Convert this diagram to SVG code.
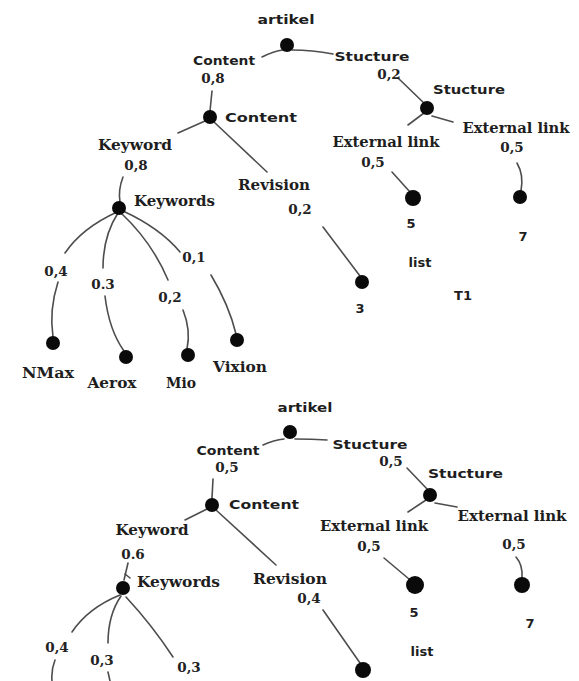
<svg xmlns="http://www.w3.org/2000/svg" width="579" height="681" viewBox="0 0 579 681">
  <style>
    .bg { fill: #ffffff; }
    .dot { fill: #0a0a0a; }
    .edge { fill: none; stroke: #4d4d4d; stroke-width: 1.6; stroke-linecap: round; }
    .sans { font-family: "DejaVu Sans", Verdana, sans-serif; font-weight: bold; font-size: 13px; fill: #1e1e1e; }
    .serif { font-family: "DejaVu Serif", "Liberation Serif", serif; font-weight: bold; font-size: 14px; fill: #1e1e1e; }
    .w { font-family: "DejaVu Serif", "Liberation Serif", serif; font-weight: bold; font-size: 13.5px; fill: #222222; text-anchor: middle; }
    .m { text-anchor: middle; }
  </style>
  <rect class="bg" x="0" y="0" width="579" height="681"/>

  <!-- ===== Tree 1 ===== -->
  <g id="t1-connectors">
    <path class="edge" d="M262,57 Q274,51 283,50"/>
    <path class="edge" d="M292,50 Q312,50 333,54"/>
    <path class="edge" d="M212,91 L210,111"/>
    <path class="edge" d="M398,78 L426,105"/>
    <path class="edge" d="M424,113 L408,125"/>
    <path class="edge" d="M432,116 L453,122"/>
    <path class="edge" d="M392,172 L410,192"/>
    <path class="edge" d="M517,163 Q524,175 521,191"/>
    <path class="edge" d="M205,121 L178,133"/>
    <path class="edge" d="M214,122 L267,172"/>
    <path class="edge" d="M123,177 Q118,190 120,202"/>
    <path class="edge" d="M323,227 L360,276"/>
    <!-- Keywords fan-out -->
    <path class="edge" d="M117,212 Q82,228 65,253"/>
    <path class="edge" d="M58,282 Q49,310 53,337"/>
    <path class="edge" d="M118,213 Q103,236 103,268"/>
    <path class="edge" d="M105,296 Q109,330 124,351"/>
    <path class="edge" d="M121,213 Q152,242 168,280"/>
    <path class="edge" d="M183,310 Q191,330 187,349"/>
    <path class="edge" d="M123,211 Q160,228 180,252"/>
    <path class="edge" d="M211,275 Q229,305 236,334"/>
    <!-- weights -->
    <text class="w" x="213" y="83">0,8</text>
    <text class="w" x="389" y="79">0,2</text>
    <text class="w" x="373" y="167">0,5</text>
    <text class="w" x="512" y="152">0,5</text>
    <text class="w" x="136" y="170">0,8</text>
    <text class="w" x="300" y="214">0,2</text>
    <text class="w" x="56" y="276">0,4</text>
    <text class="w" x="103" y="289">0.3</text>
    <text class="w" x="170" y="302">0,2</text>
    <text class="w" x="194" y="262">0,1</text>
  </g>

  <g id="t1-artikel">
    <circle class="dot" cx="287" cy="45" r="7"/>
    <text class="sans m" x="286" y="24" textLength="57" lengthAdjust="spacingAndGlyphs">artikel</text>
  </g>
  <g id="t1-content-edge-label">
    <text class="sans m" x="224" y="65" textLength="62" lengthAdjust="spacingAndGlyphs">Content</text>
  </g>
  <g id="t1-content">
    <circle class="dot" cx="210" cy="117" r="7"/>
    <text class="sans" x="225" y="122" textLength="72" lengthAdjust="spacingAndGlyphs">Content</text>
  </g>
  <g id="t1-stucture-edge-label">
    <text class="sans m" x="372" y="61" textLength="75" lengthAdjust="spacingAndGlyphs">Stucture</text>
  </g>
  <g id="t1-stucture">
    <circle class="dot" cx="427" cy="108" r="7"/>
    <text class="sans" x="433" y="94" textLength="72" lengthAdjust="spacingAndGlyphs">Stucture</text>
  </g>
  <g id="t1-extlink-left">
    <text class="serif m" x="386" y="147" textLength="107" lengthAdjust="spacingAndGlyphs">External link</text>
    <circle class="dot" cx="413" cy="198" r="8"/>
    <text class="sans m" x="411" y="228">5</text>
  </g>
  <g id="t1-extlink-right">
    <text class="serif m" x="516" y="133" textLength="107" lengthAdjust="spacingAndGlyphs">External link</text>
    <circle class="dot" cx="520" cy="197" r="7"/>
    <text class="sans m" x="523" y="241">7</text>
  </g>
  <g id="t1-keyword-label">
    <text class="serif m" x="135" y="150" textLength="74" lengthAdjust="spacingAndGlyphs">Keyword</text>
  </g>
  <g id="t1-keywords">
    <circle class="dot" cx="119" cy="208" r="7"/>
    <text class="serif" x="134" y="206" textLength="81" lengthAdjust="spacingAndGlyphs">Keywords</text>
  </g>
  <g id="t1-revision">
    <text class="serif m" x="274" y="190" textLength="72" lengthAdjust="spacingAndGlyphs">Revision</text>
    <circle class="dot" cx="362" cy="282" r="7"/>
    <text class="sans m" x="360" y="313">3</text>
  </g>
  <g id="t1-list">
    <text class="sans m" x="420" y="267">list</text>
    <text class="sans m" x="463" y="300">T1</text>
  </g>
  <g id="t1-nmax">
    <circle class="dot" cx="53" cy="343" r="7"/>
    <text class="serif m" x="48" y="378" textLength="52" lengthAdjust="spacingAndGlyphs">NMax</text>
  </g>
  <g id="t1-aerox">
    <circle class="dot" cx="126" cy="357" r="7"/>
    <text class="serif m" x="112" y="388" textLength="49" lengthAdjust="spacingAndGlyphs">Aerox</text>
  </g>
  <g id="t1-mio">
    <circle class="dot" cx="188" cy="355" r="7"/>
    <text class="serif m" x="181" y="388" textLength="30" lengthAdjust="spacingAndGlyphs">Mio</text>
  </g>
  <g id="t1-vixion">
    <circle class="dot" cx="237" cy="340" r="7"/>
    <text class="serif m" x="240" y="372" textLength="54" lengthAdjust="spacingAndGlyphs">Vixion</text>
  </g>

  <!-- ===== Tree 2 ===== -->
  <g id="t2-connectors">
    <path class="edge" d="M263,445 Q274,440 284,439"/>
    <path class="edge" d="M295,439 Q312,439 327,440"/>
    <path class="edge" d="M213,479 L212,498"/>
    <path class="edge" d="M407,468 L428,490"/>
    <path class="edge" d="M426,500 L408,512"/>
    <path class="edge" d="M435,503 L457,507"/>
    <path class="edge" d="M384,558 L409,579"/>
    <path class="edge" d="M516,557 Q523,565 522,578"/>
    <path class="edge" d="M207,509 L185,520"/>
    <path class="edge" d="M216,510 L276,565"/>
    <path class="edge" d="M128,563 L124,580"/>
    <path class="edge" d="M125,574 L130,578"/>
    <path class="edge" d="M323,610 L360,663"/>
    <!-- Keywords fan-out -->
    <path class="edge" d="M120,595 Q88,608 72,632"/>
    <path class="edge" d="M55,660 Q51,670 52,681"/>
    <path class="edge" d="M121,596 Q108,615 108,643"/>
    <path class="edge" d="M108,672 L110,681"/>
    <path class="edge" d="M126,597 Q152,625 173,657"/>
    <!-- weights -->
    <text class="w" x="227" y="472" fill="#1c2540">0,5</text>
    <text class="w" x="391" y="466">0,5</text>
    <text class="w" x="369" y="551">0,5</text>
    <text class="w" x="514" y="549">0,5</text>
    <text class="w" x="133" y="559">0.6</text>
    <text class="w" x="309" y="603">0,4</text>
    <text class="w" x="57" y="652">0,4</text>
    <text class="w" x="102" y="665">0,3</text>
    <text class="w" x="189" y="672">0,3</text>
  </g>

  <g id="t2-artikel">
    <circle class="dot" cx="290" cy="432" r="7"/>
    <text class="sans m" x="305" y="412" textLength="55" lengthAdjust="spacingAndGlyphs">artikel</text>
  </g>
  <g id="t2-content-edge-label">
    <text class="sans m" x="228" y="455" textLength="63" lengthAdjust="spacingAndGlyphs">Content</text>
  </g>
  <g id="t2-content">
    <circle class="dot" cx="212" cy="505" r="7"/>
    <text class="sans" x="229" y="509" textLength="70" lengthAdjust="spacingAndGlyphs">Content</text>
  </g>
  <g id="t2-stucture-edge-label">
    <text class="sans m" x="370" y="449" textLength="75" lengthAdjust="spacingAndGlyphs">Stucture</text>
  </g>
  <g id="t2-stucture">
    <circle class="dot" cx="430" cy="495" r="7"/>
    <text class="sans" x="428" y="478" textLength="75" lengthAdjust="spacingAndGlyphs">Stucture</text>
  </g>
  <g id="t2-extlink-left">
    <text class="serif m" x="374" y="531" textLength="108" lengthAdjust="spacingAndGlyphs">External link</text>
    <circle class="dot" cx="415" cy="585" r="9"/>
    <text class="sans m" x="414" y="617">5</text>
  </g>
  <g id="t2-extlink-right">
    <text class="serif m" x="512" y="521" textLength="109" lengthAdjust="spacingAndGlyphs">External link</text>
    <circle class="dot" cx="522" cy="585" r="8"/>
    <text class="sans m" x="530" y="628">7</text>
  </g>
  <g id="t2-keyword-label">
    <text class="serif m" x="152" y="535" textLength="73" lengthAdjust="spacingAndGlyphs">Keyword</text>
  </g>
  <g id="t2-keywords">
    <circle class="dot" cx="123" cy="588" r="7"/>
    <text class="serif" x="137" y="587" textLength="83" lengthAdjust="spacingAndGlyphs">Keywords</text>
  </g>
  <g id="t2-revision">
    <text class="serif m" x="290" y="584" textLength="74" lengthAdjust="spacingAndGlyphs">Revision</text>
    <circle class="dot" cx="363" cy="670" r="8"/>
  </g>
  <g id="t2-list">
    <text class="sans m" x="422" y="656">list</text>
  </g>
</svg>
